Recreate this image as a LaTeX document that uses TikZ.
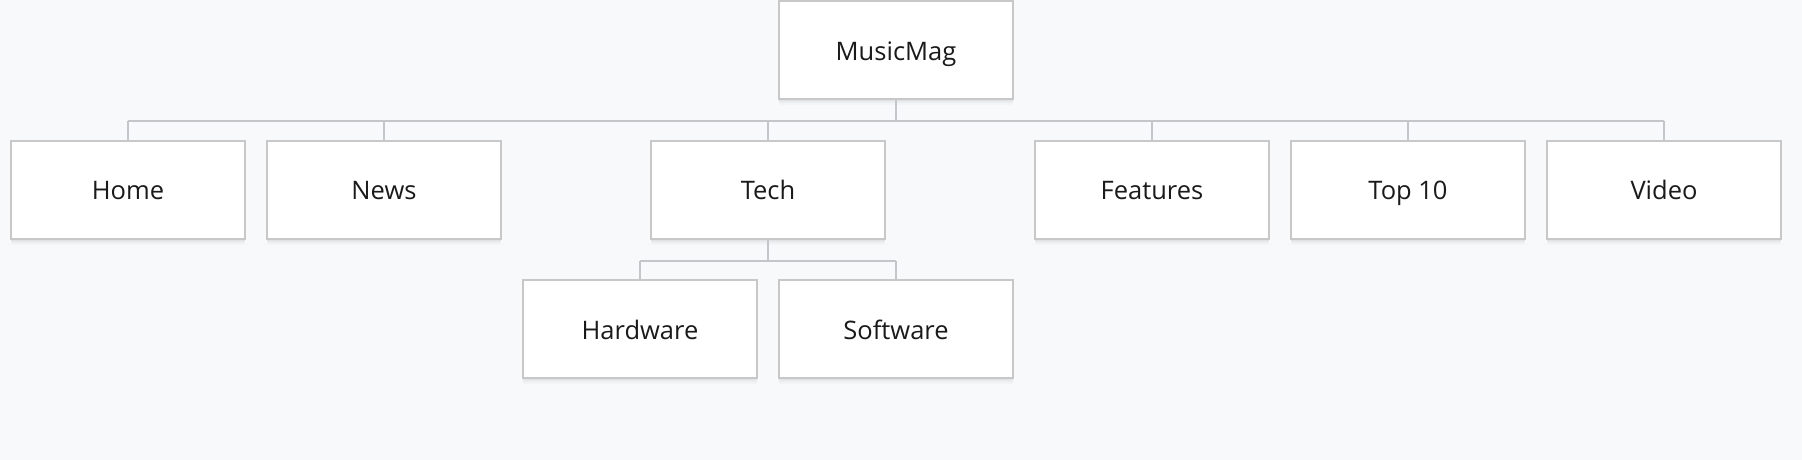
\documentclass[tikz,border=0pt]{standalone}
\usepackage{fontspec}
\setmainfont{Open Sans}
\definecolor{bgc}{HTML}{F8F9FB}
\definecolor{boxline}{HTML}{C8C8C8}
\definecolor{connc}{HTML}{C4C6C9}
\definecolor{txt}{HTML}{1A1A1A}
\begin{document}
\begin{tikzpicture}[x=1pt,y=-1pt,
  pagebox/.style={draw=boxline, line width=2pt, fill=white, minimum width=234pt, minimum height=98pt, inner sep=0pt,
    text=txt, font=\fontsize{25.5}{30}\selectfont, text height=21pt, text depth=1pt,
    preaction={fill=black, fill opacity=0.045, draw=none, transform canvas={yshift=-2pt}},
    preaction={fill=black, fill opacity=0.03, draw=none, transform canvas={yshift=-4pt}},
    preaction={fill=black, fill opacity=0.02, draw=none, transform canvas={yshift=-6pt}}},
  link/.style={draw=connc, line width=2pt}]
\path[fill=bgc] (0,0) rectangle (1802,460);
\useasboundingbox (0,0) rectangle (1802,460);
% nodes
\node[pagebox] (mm) at (896,50) {MusicMag};
\node[pagebox] (home) at (128,189.5) {Home};
\node[pagebox] (news) at (384,189.5) {News};
\node[pagebox] (tech) at (768,189.5) {Tech};
\node[pagebox] (feat) at (1152,189.5) {Features};
\node[pagebox] (top) at (1408,189.5) {Top 10};
\node[pagebox] (video) at (1664,189.5) {Video};
\node[pagebox] (hw) at (640,329) {Hardware};
\node[pagebox] (sw) at (896,329) {Software};
\coordinate (busA) at (896,120.5);
\coordinate (busB) at (768,261);
% connectors
\draw[link] (mm.south) -- (mm.south |- busA);
\draw[link] (home.north |- busA) -- (video.north |- busA);
\foreach \c in {home,news,tech,feat,top,video}{
  \draw[link] (\c.north |- busA) -- (\c.north);
}
\draw[link] (tech.south) -- (tech.south |- busB);
\draw[link] (hw.north |- busB) -- (sw.north |- busB);
\draw[link] (hw.north |- busB) -- (hw.north);
\draw[link] (sw.north |- busB) -- (sw.north);
\end{tikzpicture}
\end{document}
